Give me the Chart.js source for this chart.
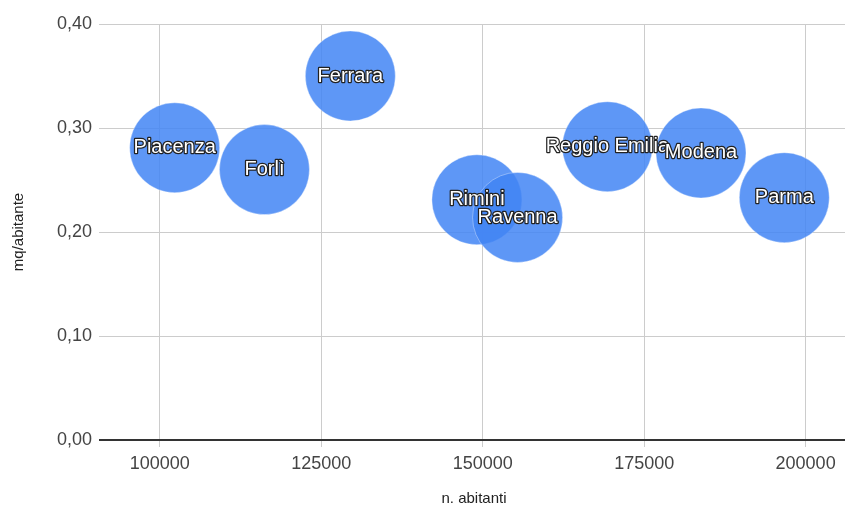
<!DOCTYPE html>
<html>
<head>
<meta charset="utf-8">
<script src="https://cdn.jsdelivr.net/npm/chart.js@4.4.1/dist/chart.umd.min.js"></script>
<style>
  html, body { margin: 0; padding: 0; background: #fff; }
  #wrap { width: 847px; height: 518px; }
</style>
</head>
<body>
<div id="wrap"><canvas id="bubble-chart"></canvas></div>
<script>
// values
const cities = ['Piacenza', 'Forlì', 'Ferrara', 'Rimini', 'Ravenna', 'Reggio Emilia', 'Modena', 'Parma'];
const abitanti = [102300, 116200, 129500, 149100, 155400, 169300, 183800, 196700];
const mqPerAbitante = [0.281, 0.260, 0.350, 0.231, 0.214, 0.282, 0.276, 0.233];
const xTicks = [100000, 125000, 150000, 175000, 200000];
const yTicks = [0, 0.1, 0.2, 0.3, 0.4];

const FONT = '"Liberation Sans", Arial, sans-serif';

// draws the city name on every bubble, white with a dark outline
const bubbleLabels = {
    id: 'bubbleLabels',
    afterDatasetsDraw(chart) {
        const ctx = chart.ctx;
        const meta = chart.getDatasetMeta(0);
        ctx.save();
        ctx.font = '20px ' + FONT;
        ctx.textAlign = 'center';
        ctx.textBaseline = 'middle';
        ctx.lineJoin = 'round';
        meta.data.forEach((pt, i) => {
            ctx.lineWidth = 2.5;
            ctx.strokeStyle = '#222';
            ctx.strokeText(cities[i], pt.x, pt.y);
            ctx.fillStyle = '#fff';
            ctx.fillText(cities[i], pt.x, pt.y);
        });
        ctx.restore();
    }
};

const chart = new Chart(document.getElementById('bubble-chart'), {
    type: 'bubble',
    data: {
        datasets: [{
            label: 'mq/abitante',
            data: abitanti.map((v, i) => ({ x: v, y: mqPerAbitante[i] })),
            radius: 45,
            backgroundColor: 'rgba(66, 133, 244, 0.85)',
            borderColor: 'rgba(255, 255, 255, 0.35)',
            borderWidth: 1,
            clip: false
        }]
    },
    options: {
        responsive: true,
        maintainAspectRatio: false,
        animation: false,
        events: [],
        layout: { autoPadding: false, padding: { top: 24, right: 2, left: 0, bottom: 0 } },
        plugins: {
            legend: { display: false },
            tooltip: { enabled: false }
        },
        scales: {
            x: {
                type: 'linear',
                min: 91200,
                max: 206100,
                afterBuildTicks: (s) => { s.ticks = xTicks.map(v => ({ value: v })); },
                afterFit: (s) => { s.height = 78; },
                border: { display: false },
                grid: { color: '#cccccc', lineWidth: 1, tickLength: 7 },
                ticks: {
                    color: '#444',
                    font: { family: FONT, size: 18 },
                    padding: 6,
                    maxRotation: 0,
                    callback: (v) => String(v)
                },
                title: {
                    display: true,
                    text: 'n. abitanti',
                    color: '#222',
                    font: { family: FONT, size: 15 },
                    padding: { top: 0, bottom: 10 }
                }
            },
            y: {
                min: 0,
                max: 0.4,
                afterBuildTicks: (s) => { s.ticks = yTicks.map(v => ({ value: v })); },
                afterFit: (s) => { s.width = 103; },
                border: { display: false },
                grid: {
                    color: (c) => c.tick && c.tick.value === 0 ? '#333333' : '#cccccc',
                    lineWidth: (c) => c.tick && c.tick.value === 0 ? 2 : 1,
                    tickLength: 4
                },
                ticks: {
                    color: '#444',
                    font: { family: FONT, size: 18 },
                    padding: 7,
                    callback: (v) => v.toFixed(2).replace('.', ',')
                },
                title: {
                    display: true,
                    text: 'mq/abitante',
                    color: '#222',
                    font: { family: FONT, size: 15 },
                    padding: { top: 10, bottom: 0 }
                }
            }
        }
    },
    plugins: [bubbleLabels]
});
</script>
</body>
</html>
